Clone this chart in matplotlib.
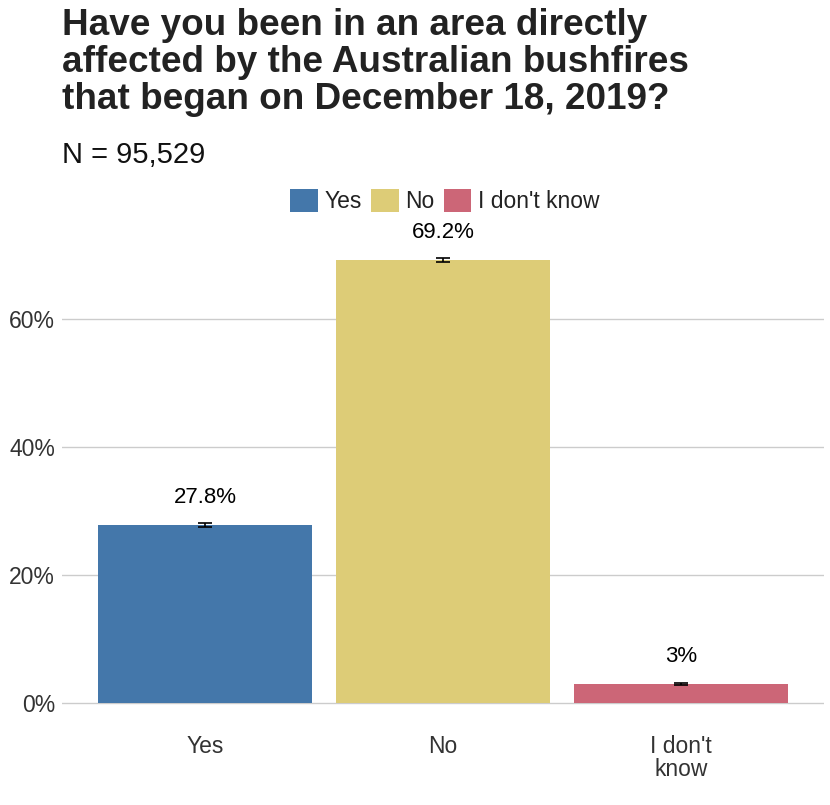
import numpy as np
import matplotlib
matplotlib.use('Agg')
from matplotlib import pyplot as plt
from matplotlib.patches import Patch

categories = ['Yes', 'No', "I don't\nknow"]
legend_labels = ['Yes', 'No', "I don't know"]
values = [27.8, 69.2, 3.0]
errors = [0.3, 0.3, 0.15]
value_labels = ['27.8%', '69.2%', '3%']
colors = ['#4477AA', '#DDCC77', '#CC6677']
yticks = [0, 20, 40, 60]

plt.rcParams['font.family'] = ['Liberation Sans', 'DejaVu Sans']

fig = plt.figure(figsize=(8.3, 8.05), dpi=100)
# axes in pixel terms: x 62..824, y top 230 .. bottom 725
ax = fig.add_axes([62/830, 1 - 725/805, 762/830, 495/805])

x = np.arange(len(categories)) + 1
ax.bar(x, values, width=0.9, color=colors, zorder=2)
ax.errorbar(x, values, yerr=errors, fmt='none', ecolor='black',
            elinewidth=1.2, capsize=5, capthick=1.2, zorder=3)
for xi, v, lab in zip(x, values, value_labels):
    ax.text(xi, v + 2.6, lab, ha='center', va='bottom', fontsize=16, color='black')

ax.set_xlim(0.4, 3.6)
ax.set_ylim(-3.44, 73.9)
ax.set_yticks(yticks)
ax.set_yticklabels([f'{t}%' for t in yticks])
ax.set_xticks(x)
ax.set_xticklabels(categories, linespacing=1.0)
ax.grid(axis='y', color='#cccccc', linewidth=1.0, zorder=0)
ax.tick_params(axis='both', length=0, labelsize=16.5, labelcolor='#333333')
ax.tick_params(axis='y', pad=5)
ax.tick_params(axis='x', pad=7)
for s in ax.spines.values():
    s.set_visible(False)

fig.text(62/830, 1 - 8/805, 'Have you been in an area directly\naffected by the Australian bushfires\nthat began on December 18, 2019?',
         ha='left', va='top', fontsize=26.6, fontweight='bold', color='#222222', linespacing=1.07)
fig.text(62/830, 1 - 163/805, 'N = 95,529', ha='left', va='baseline', fontsize=21, color='#111111')

handles = [Patch(facecolor=c, edgecolor='none') for c in colors]
fig.legend(handles, legend_labels, loc='center', bbox_to_anchor=(445/830, 1 - 201/805),
           ncol=3, frameon=False, fontsize=16.5, handlelength=1.2, handleheight=1.2,
           handletextpad=0.3, columnspacing=0.4, labelcolor='#222222')

fig.savefig('out.png', dpi=100)
